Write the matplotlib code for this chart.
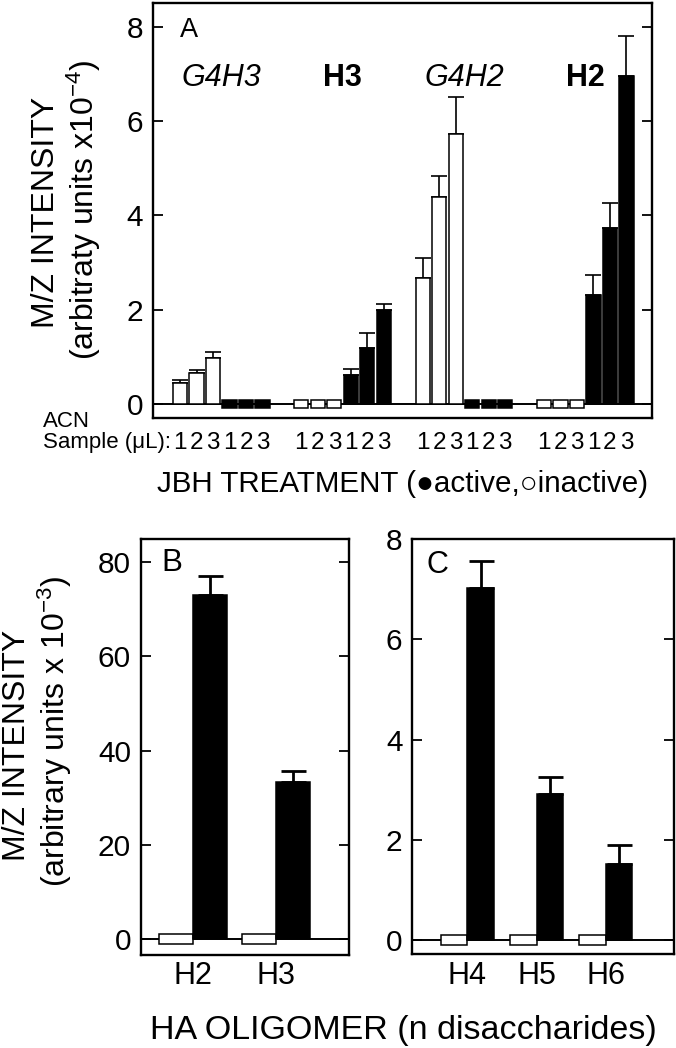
import matplotlib
matplotlib.use('Agg')
import matplotlib.pyplot as plt
from matplotlib.transforms import blended_transform_factory

plt.rcParams['font.family'] = ['Liberation Sans', 'DejaVu Sans']
plt.rcParams['mathtext.fontset'] = 'custom'
plt.rcParams['mathtext.rm'] = 'Liberation Sans'
plt.rcParams['mathtext.it'] = 'Liberation Sans:italic'
plt.rcParams['mathtext.bf'] = 'Liberation Sans:bold'
NARROW = ['Liberation Sans Narrow', 'Liberation Sans', 'DejaVu Sans']

# ---------------- data ----------------
a_groups = ['G4H3', 'H3', 'G4H2', 'H2']
a_group_style = ['italic', 'bold', 'italic', 'bold']
a_samples = ['1', '2', '3']
a_inactive = [[0.44, 0.65, 0.97], [0, 0, 0], [2.67, 4.39, 5.73], [0, 0, 0]]
a_inactive_err = [[0.07, 0.07, 0.12], [0, 0, 0], [0.43, 0.44, 0.77], [0, 0, 0]]
a_active = [[0, 0, 0], [0.61, 1.19, 2.00], [0, 0, 0], [2.31, 3.73, 6.96]]
a_active_err = [[0, 0, 0], [0.12, 0.31, 0.12], [0, 0, 0], [0.42, 0.53, 0.85]]
a_yticks = [0, 2, 4, 6, 8]

b_labels = ['H2', 'H3']
b_inactive = [0, 0]
b_active = [73.1, 33.3]
b_active_err = [3.9, 2.4]
b_yticks = [0, 20, 40, 60, 80]

c_labels = ['H4', 'H5', 'H6']
c_inactive = [0, 0, 0]
c_active = [7.02, 2.92, 1.52]
c_active_err = [0.55, 0.34, 0.37]
c_yticks = [0, 2, 4, 6, 8]

# ---------------- layout helpers ----------------
W, H = 676, 1048
fig = plt.figure(figsize=(W / 100, H / 100), dpi=100)


def fx(px):
    return px / W


def fy(py):
    return 1 - py / H


def add_ax(left, right, top, bottom):
    return fig.add_axes([fx(left), fy(bottom), fx(right) - fx(left), (bottom - top) / H])


def style_ax(ax, yticks):
    for s in ax.spines.values():
        s.set_linewidth(1.7)
    ax.set_yticks(yticks)
    ax.tick_params(axis='y', direction='in', length=7.5, width=1.3, labelsize=21.5,
                   right=True, left=True, pad=7)
    ax.tick_params(axis='x', length=0)
    ax.axhline(0, color='black', lw=1.4, zorder=1)


def draw_bars(ax, xs, vals, errs, filled, width, zero_half, elw, cap):
    for x, v, e in zip(xs, vals, errs):
        fc = 'black' if filled else 'white'
        if v == 0:
            ax.bar(x, 2 * zero_half, bottom=-zero_half, width=width, color=fc,
                   edgecolor='black', linewidth=1.1, zorder=3)
        else:
            ax.bar(x, v, width=width, color=fc, edgecolor='black', linewidth=1.1, zorder=3)
        if e > 0:
            ax.errorbar(x, v, yerr=[[0], [e]], fmt='none', ecolor='black',
                        elinewidth=elw, capsize=cap, capthick=elw, zorder=2)


# ---------------- Panel A ----------------
axA = add_ax(153, 652, 3, 418)
style_ax(axA, a_yticks)
stride = 7.35
bw = 0.86
xs_all = []
for g in range(len(a_groups)):
    base = g * stride
    xin = [base + i for i in range(3)]
    xac = [base + 3 + i for i in range(3)]
    draw_bars(axA, xin, a_inactive[g], a_inactive_err[g], False, bw, 0.09, 1.2, 5.5)
    draw_bars(axA, xac, a_active[g], a_active_err[g], True, bw, 0.09, 1.2, 5.5)
    xs_all += xin + xac
    axA.text(base + 2.5, 6.92, a_groups[g], ha='center', va='center', fontsize=22,
             fontstyle='italic' if a_group_style[g] == 'italic' else 'normal',
             fontweight='bold' if a_group_style[g] == 'bold' else 'normal')
axA.set_xlim(-1.64, 28.6)
axA.set_ylim(-0.3, 8.5)
axA.set_xticks([])
axA.text(0.054, 0.966, 'A', transform=axA.transAxes, fontsize=19.5, ha='left', va='top')

trA = blended_transform_factory(axA.transData, fig.transFigure)
sample_labels = a_samples * 2 * len(a_groups)
for x, lab in zip(xs_all, sample_labels):
    axA.text(x, fy(449), lab, transform=trA, ha='center', va='baseline', fontsize=17.5,
             family=NARROW)
fig.text(fx(43.3), fy(427.3), 'ACN', ha='left', va='baseline', fontsize=16)
fig.text(fx(43.3), fy(448), 'Sample (μL):', ha='left', va='baseline', fontsize=16)
fig.text(fx(402.5), fy(491.5), 'JBH TREATMENT (●active,○inactive)', ha='center',
         va='baseline', fontsize=21.3)
fig.text(fx(46), fy(212), 'M/Z INTENSITY', rotation=90, ha='center', va='center', fontsize=23)
fig.text(fx(84), fy(210), r'(arbitraty units x10$^{-4}$)', rotation=90, ha='center',
         va='center', fontsize=23)

# ---------------- Panel B ----------------
axB = add_ax(140.7, 348.7, 539, 955)
style_ax(axB, b_yticks)
pw = 0.41
xb = list(range(len(b_labels)))
draw_bars(axB, [x - pw / 2 for x in xb], b_inactive, [0] * len(xb), False, pw, 1.06, 2, 9)
draw_bars(axB, [x + pw / 2 for x in xb], b_active, b_active_err, True, pw, 1.06, 2, 9)
axB.set_xlim(-0.63, 1.876)
axB.set_ylim(-3.3, 84.9)
axB.set_xticks(xb)
axB.set_xticklabels(b_labels, fontsize=22)
axB.tick_params(axis='x', pad=4.5)
axB.text(0.10, 0.978, 'B', transform=axB.transAxes, fontsize=22.5, ha='left', va='top')

# ---------------- Panel C ----------------
axC = add_ax(412.3, 674, 539, 954.3)
style_ax(axC, c_yticks)
pw2 = 0.384
xc = list(range(len(c_labels)))
draw_bars(axC, [x - pw2 / 2 for x in xc], c_inactive, [0] * len(xc), False, pw2, 0.1, 2, 9)
draw_bars(axC, [x + pw2 / 2 for x in xc], c_active, c_active_err, True, pw2, 0.1, 2, 9)
axC.set_xlim(-0.794, 2.983)
axC.set_ylim(-0.28, 8.0)
axC.set_xticks(xc)
axC.set_xticklabels(c_labels, fontsize=22)
axC.tick_params(axis='x', pad=4.5)
axC.text(0.055, 0.973, 'C', transform=axC.transAxes, fontsize=22, ha='left', va='top')

fig.text(fx(17), fy(745), 'M/Z INTENSITY', rotation=90, ha='center', va='center', fontsize=23)
fig.text(fx(55), fy(731), r'(arbitrary units x 10$^{-3}$)', rotation=90, ha='center',
         va='center', fontsize=23)
fig.text(fx(403.3), fy(1039), 'HA OLIGOMER (n disaccharides)', ha='center', va='baseline',
         fontsize=24.5)

fig.savefig('out.png', dpi=100)
